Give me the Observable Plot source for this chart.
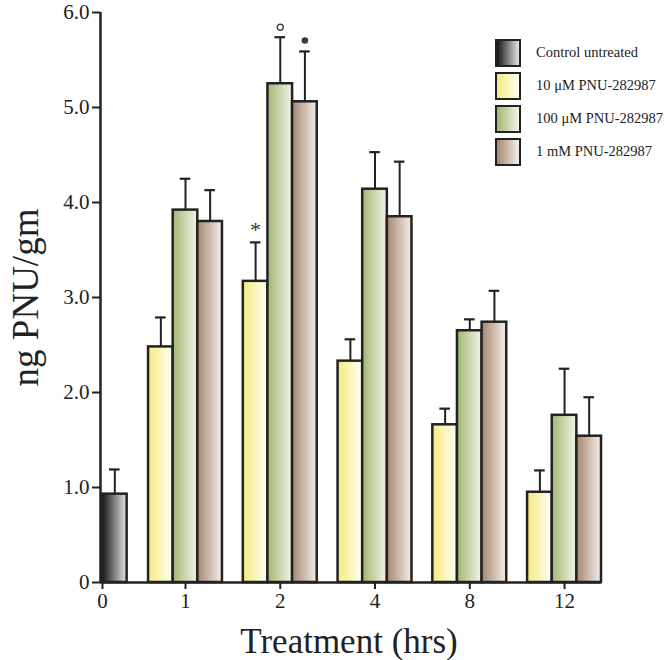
<!DOCTYPE html>
<html><head><meta charset="utf-8">
<script src="https://cdn.jsdelivr.net/npm/d3@7"></script>
<script src="https://cdn.jsdelivr.net/npm/@observablehq/plot@0.6"></script>
<style>
body{margin:0;background:#fff;}
#wrap{position:relative;width:664px;height:660px;font-family:"Liberation Serif",serif;}
#legend{position:absolute;left:495px;top:36px;}
.row{display:flex;align-items:center;height:33px;}
.sw{width:22px;height:24px;border:2.5px solid #222;margin-right:15px;}
.lab{font-size:14.5px;color:#222;white-space:nowrap;}
#chart svg [aria-label$="axis tick"] path,
#chart svg [aria-label$="-axis"] .tick line{stroke-width:2px;stroke:#222;}
</style></head><body>
<div id="wrap"><div id="chart"></div><div id="legend"></div></div>
<script>
// ---- data ----
const categories = ["0", "1", "2", "4", "8", "12"];
const controlName = "Control untreated";
const seriesNames = ["10 μM PNU-282987", "100 μM PNU-282987", "1 mM PNU-282987"];
const controlValues = [0.93, null, null, null, null, null];
const controlErrTop = [1.19, null, null, null, null, null];
const values10uM  = [null, 2.48, 3.17, 2.33, 1.66, 0.95];
const values100uM = [null, 3.92, 5.25, 4.14, 2.65, 1.76];
const values1mM   = [null, 3.80, 5.06, 3.85, 2.74, 1.54];
const errTop10uM  = [null, 2.79, 3.58, 2.56, 1.83, 1.18];
const errTop100uM = [null, 4.25, 5.74, 4.53, 2.77, 2.25];
const errTop1mM   = [null, 4.13, 5.59, 4.43, 3.07, 1.95];
const yTicks = [0, 1, 2, 3, 4, 5, 6];
const yTickLabels = ["0", "1.0", "2.0", "3.0", "4.0", "5.0", "6.0"];
const annotations = [
  {category: "2", series: 0, symbol: "*"},
  {category: "2", series: 1, symbol: "open"},
  {category: "2", series: 2, symbol: "filled"}
];

// ---- styles / layout ----
const gradients = [
  ["#141414", "#e6e6e6"],   // control
  ["#f5ea7e", "#fffef6"],   // 10 uM
  ["#a2b770", "#f4f4ec"],   // 100 uM
  ["#a68770", "#f4eeea"]    // 1 mM
];
const barW = 0.26;
const firstOffset = 0.876;
const groupPos = categories.map((c, i) => i === 0 ? 1 - firstOffset : i);
const capHalf = 0.056;

const seriesValues = [values10uM, values100uM, values1mM];
const seriesErr = [errTop10uM, errTop100uM, errTop1mM];

const bars = [];
categories.forEach((c, i) => {
  if (controlValues[i] != null) {
    const x1 = groupPos[i];
    bars.push({cat: c, s: -1, g: 0, x1, x2: x1 + barW, v: controlValues[i], e: controlErrTop[i]});
  }
  seriesValues.forEach((vals, s) => {
    if (vals[i] == null) return;
    const x1 = groupPos[i] + (s - 1.5) * barW;
    bars.push({cat: c, s, g: s + 1, x1, x2: x1 + barW, v: vals[i], e: seriesErr[s][i]});
  });
});
const cx = d => (d.x1 + d.x2) / 2;

const xLabel = new Map(groupPos.map((p, i) => [p, categories[i]]));
const yLabel = new Map(yTicks.map((t, i) => [t, yTickLabels[i]]));
const xDomain = [0.103, 5.39];

const ann = annotations.map(a => {
  const b = bars.find(d => d.cat === a.category && d.s === a.series);
  return {...a, x: cx(b), y: b.e};
});

const chart = Plot.plot({
  width: 664, height: 660,
  marginLeft: 100, marginRight: 63, marginTop: 12, marginBottom: 78,
  style: {fontFamily: "Liberation Serif", fontSize: "21px", color: "#222", background: "white", overflow: "visible"},
  x: {domain: xDomain, ticks: groupPos, tickFormat: d => xLabel.get(d), tickSize: 7, tickPadding: 4, label: null},
  y: {domain: [0, 6], ticks: yTicks, tickFormat: d => yLabel.get(d), tickSize: 8, tickPadding: 3, label: null},
  marks: [
    ...[0, 1, 2, 3].map(g => Plot.rectY(bars.filter(d => d.g === g), {
      x1: "x1", x2: "x2", y1: d => 0, y2: "v",
      fill: `url(#grad${g})`, stroke: "#222", strokeWidth: 2.5
    })),
    Plot.ruleX(bars, {x: cx, y1: "v", y2: "e", stroke: "#222", strokeWidth: 2}),
    Plot.ruleY(bars, {y: "e", x1: d => cx(d) - capHalf, x2: d => cx(d) + capHalf, stroke: "#222", strokeWidth: 2.2}),
    Plot.text(ann.filter(a => a.symbol === "*"), {x: "x", y: "y", text: d => "*", dy: -12, fontSize: 22, fill: "#333"}),
    Plot.dot(ann.filter(a => a.symbol === "open"), {x: "x", y: "y", dy: -10, r: 3, stroke: "#444", strokeWidth: 1.4, fill: "white"}),
    Plot.dot(ann.filter(a => a.symbol === "filled"), {x: "x", y: "y", dy: -11, r: 3.3, fill: "#3a3a48", stroke: "none"}),
    Plot.ruleY([0], {stroke: "#222", strokeWidth: 2.5}),
    Plot.ruleX([xDomain[0]], {y1: d => 0, y2: d => 6, stroke: "#222", strokeWidth: 2.5}),
    Plot.text(["ng PNU/gm"], {frameAnchor: "left", dx: -74, rotate: -90, textAnchor: "middle", lineAnchor: "middle", fontSize: 37, fill: "#222"}),
    Plot.text(["Treatment (hrs)"], {frameAnchor: "bottom", dx: -2, dy: 59, textAnchor: "middle", lineAnchor: "middle", fontSize: 35, fill: "#222"})
  ]
});

// gradient defs
const ns = "http://www.w3.org/2000/svg";
const defs = document.createElementNS(ns, "defs");
gradients.forEach((stops, g) => {
  const lg = document.createElementNS(ns, "linearGradient");
  lg.setAttribute("id", `grad${g}`);
  lg.setAttribute("x1", "0"); lg.setAttribute("x2", "1");
  lg.setAttribute("y1", "0"); lg.setAttribute("y2", "0");
  stops.forEach((col, k) => {
    const st = document.createElementNS(ns, "stop");
    st.setAttribute("offset", k === 0 ? "0" : "1");
    st.setAttribute("stop-color", col);
    lg.appendChild(st);
  });
  defs.appendChild(lg);
});
chart.insertBefore(defs, chart.firstChild);
document.getElementById("chart").appendChild(chart);

// legend
const legend = document.getElementById("legend");
[controlName, ...seriesNames].forEach((name, g) => {
  const row = document.createElement("div");
  row.className = "row";
  const sw = document.createElement("div");
  sw.className = "sw";
  sw.style.background = `linear-gradient(to right, ${gradients[g][0]}, ${gradients[g][1]})`;
  const lab = document.createElement("div");
  lab.className = "lab";
  lab.textContent = name;
  row.appendChild(sw); row.appendChild(lab);
  legend.appendChild(row);
});
</script>
</body></html>
